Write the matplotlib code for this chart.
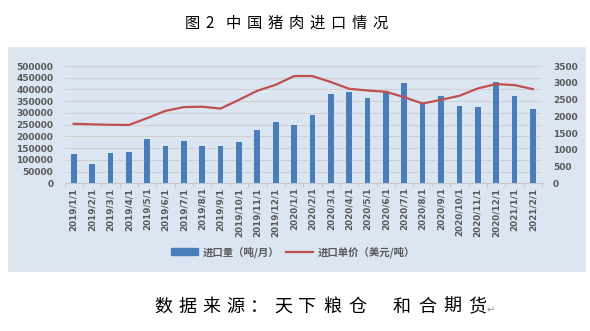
import numpy as np
import matplotlib
matplotlib.use("Agg")
import matplotlib.pyplot as plt
from matplotlib.patches import Rectangle
from matplotlib.lines import Line2D

plt.rcParams["font.family"] = ["Noto Sans CJK SC", "DejaVu Sans"]

# monthly pork imports (tonnes) and unit price (USD/tonne)
months = ["2019/1/1", "2019/2/1", "2019/3/1", "2019/4/1", "2019/5/1", "2019/6/1",
          "2019/7/1", "2019/8/1", "2019/9/1", "2019/10/1", "2019/11/1", "2019/12/1",
          "2020/1/1", "2020/2/1", "2020/3/1", "2020/4/1", "2020/5/1", "2020/6/1",
          "2020/7/1", "2020/8/1", "2020/9/1", "2020/10/1", "2020/11/1", "2020/12/1",
          "2021/1/1", "2021/2/1"]
volume = [124000, 81000, 128000, 135000, 189000, 160000, 182000, 160000, 160000,
          177000, 227000, 261000, 247000, 291000, 382000, 388000, 365000, 392000,
          426000, 341000, 372000, 330000, 325000, 432000, 372000, 316000]
price = [1775, 1760, 1745, 1740, 1944, 2162, 2273, 2285, 2230, 2491, 2761, 2940,
         3200, 3200, 3021, 2820, 2770, 2730, 2570, 2380, 2491, 2611, 2830, 2961,
         2931, 2811]

BG = "#dce6f2"
BLUE = "#4a7ebb"
RED = "#c0504d"
TXT = "#595959"

fig = plt.figure(figsize=(5.9, 3.31), dpi=100)
W, H = 590, 331
fig.patches.append(Rectangle((8 / W, 1 - 271 / H), 577 / W, 224 / H,
                             transform=fig.transFigure, facecolor=BG,
                             edgecolor="#e4e4e4", lw=0.6, zorder=-10))

ax = fig.add_axes([64.5 / W, 1 - 183.3 / H, 477.5 / W, 117.3 / H])
ax.set_facecolor(BG)
x = np.arange(len(months))
ax.bar(x, volume, width=0.31, color=BLUE, zorder=3)
ax.set_xlim(-0.5, len(months) - 0.5)
ax.set_ylim(0, 500000)
ax.set_yticks(np.arange(0, 500001, 50000))
ax.grid(axis="y", color="#d0d0d0", lw=0.7, zorder=0)
ax.set_xticks(x)
ax.set_xticklabels(months, rotation=90, fontsize=6.3, fontweight="bold",
                   color=TXT, family="DejaVu Sans")
ax.set_xticks(np.arange(-0.5, len(months)), minor=True)
ax.tick_params(axis="x", which="major", length=0, pad=3)
ax.tick_params(axis="x", which="minor", length=3, color="#bfbfbf")
ax.tick_params(axis="y", length=0, pad=8, labelsize=6.5, labelcolor=TXT)
for lb in ax.get_yticklabels():
    lb.set_fontweight("bold"); lb.set_family("DejaVu Sans")
for s in ["top", "left", "right"]:
    ax.spines[s].set_visible(False)
ax.spines["bottom"].set_color("#c8c8c8")

ax2 = ax.twinx()
ax2.plot(x, price, color=RED, lw=1.6, zorder=4)
ax2.set_ylim(0, 3500)
ax2.set_yticks(np.arange(0, 3501, 500))
ax2.tick_params(axis="y", length=0, pad=8, labelsize=6.5, labelcolor=TXT)
for lb in ax2.get_yticklabels():
    lb.set_fontweight("bold"); lb.set_family("DejaVu Sans")
for s in ["top", "left", "right", "bottom"]:
    ax2.spines[s].set_visible(False)

handles = [Rectangle((0, 0), 1, 1, color=BLUE), Line2D([], [], color=RED, lw=1.6)]
fig.legend(handles, ["进口量（吨/月）", "进口单价（美元/吨）"], ncol=2, frameon=False,
           loc="center", bbox_to_anchor=(293 / W, 1 - 252 / H),
           labelcolor=TXT, handlelength=2.6, handleheight=0.6, columnspacing=0.6,
           handletextpad=0.5, prop={"weight": "bold", "size": 7.5})

# title and source line, placed char by char to mimic the wide Song spacing
title_chars = ["图", "2"] + list("中国猪肉进口情况")
title_x = [192, 210] + [233 + 21 * i for i in range(8)]
for c, cx in zip(title_chars, title_x):
    fig.text(cx / W, 1 - 23.5 / H, c, ha="center", va="center", fontsize=11,
             color="black")

src_chars = list("数据来源：天下粮仓和合期货")
src_x = [163, 187, 211, 235, 259, 283, 307, 332, 357, 402, 427, 452, 477]
for c, cx in zip(src_chars, src_x):
    fig.text(cx / W, 1 - 307 / H, c, ha="center", va="center", fontsize=13,
             color="black")
fig.text(491 / W, 1 - 310 / H, "↵", ha="center", va="center", fontsize=7,
         color="#909090", family=["DejaVu Sans"])

fig.savefig("out.png", dpi=100, facecolor="white")
